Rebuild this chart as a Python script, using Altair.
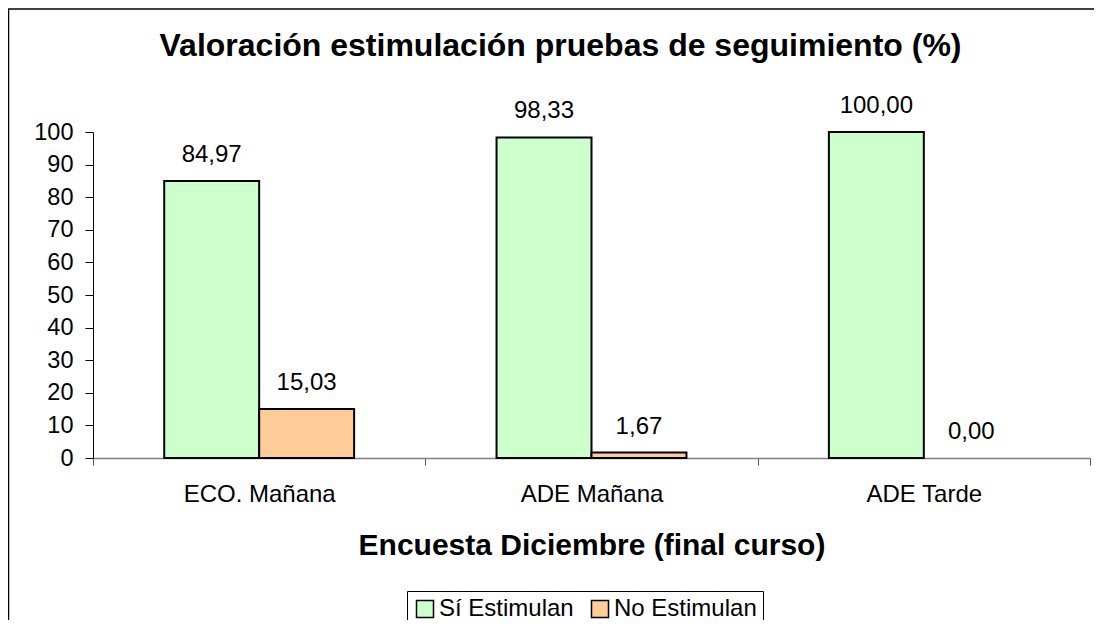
import altair as alt
import pandas as pd

categories = ["ECO. Mañana", "ADE Mañana", "ADE Tarde"]
series = ["Sí Estimulan", "No Estimulan"]
si_values = [84.97, 98.33, 100.00]
no_values = [15.03, 1.67, 0.00]
colors = ["#CCFFCC", "#FFCC99"]
y_ticks = [0, 10, 20, 30, 40, 50, 60, 70, 80, 90, 100]

rows = []
for c, s, n in zip(categories, si_values, no_values):
    for name, v in ((series[0], s), (series[1], n)):
        rows.append({"cat": c, "serie": name, "value": v,
                     "label": f"{v:.2f}".replace(".", ",")})
df = pd.DataFrame(rows)

FONT = "Liberation Sans"
W, H = 997, 326

x = alt.X("cat:N", sort=categories,
          scale=alt.Scale(paddingInner=0, paddingOuter=0),
          axis=alt.Axis(title="Encuesta Diciembre (final curso)", labelAngle=0,
                        tickBand="extent", domainColor="#808080", domainWidth=1.5,
                        tickColor="#555555", tickSize=7, labelFontSize=24,
                        labelFont=FONT, labelColor="black", labelPadding=17,
                        titleFont=FONT, titleFontSize=30, titleFontWeight="bold",
                        titleColor="black", titlePadding=24))
xo = alt.XOffset("serie:N", sort=series,
                 scale=alt.Scale(domain=series, paddingInner=0, paddingOuter=0.75))
y = alt.Y("value:Q", scale=alt.Scale(domain=[0, 100], nice=False),
          axis=alt.Axis(values=y_ticks, title=None, grid=False, domainColor="black",
                        tickColor="black", tickSize=8, labelFontSize=23.5,
                        labelFont=FONT, labelColor="black", labelPadding=12))

bars = alt.Chart(df).mark_bar(strokeWidth=2).encode(
    x=x, xOffset=xo, y=y,
    color=alt.Color("serie:N", sort=series,
                    scale=alt.Scale(domain=series, range=colors),
                    legend=alt.Legend(title=None)),
    stroke=alt.condition("datum.value > 0", alt.value("black"), alt.value("transparent")),
)

labels = alt.Chart(df).mark_text(dy=-19, baseline="alphabetic", fontSize=24,
                                 font=FONT, color="black").encode(
    x=x, xOffset=xo, y=y, text="label:N")

frame = alt.Data(values=[{"k": 1}])
left_border = alt.Chart(frame).mark_rule(color="black", strokeWidth=1.5).encode(
    x=alt.value(-84.5), y=alt.value(-123), y2=alt.value(700))
top_border = alt.Chart(frame).mark_rule(color="black", strokeWidth=1.5).encode(
    x=alt.value(-85), x2=alt.value(1100), y=alt.value(-123))

chart = alt.layer(left_border, top_border, bars, labels).properties(
    width=W, height=H,
    title=alt.TitleParams(text="Valoración estimulación pruebas de seguimiento (%)",
                          font=FONT, fontSize=32, fontWeight="bold", color="black",
                          anchor="middle", frame="group", dx=-31,
                          baseline="alphabetic", offset=-80),
    padding={"left": 85, "top": 124, "right": 4, "bottom": 162},
    autosize=alt.AutoSizeParams(type="none"),
).configure_view(strokeWidth=0).configure_legend(
    orient="none", legendX=314, legendY=459, direction="horizontal",
    strokeColor="black", fillColor="white", padding=6, symbolType="square",
    symbolSize=289, symbolStrokeColor="black", symbolStrokeWidth=1.5,
    labelFontSize=24, labelFont=FONT, labelColor="black",
    columnPadding=14, labelOffset=2, cornerRadius=0,
)

chart.save("out.html", embed_options={"renderer": "svg", "actions": False})
